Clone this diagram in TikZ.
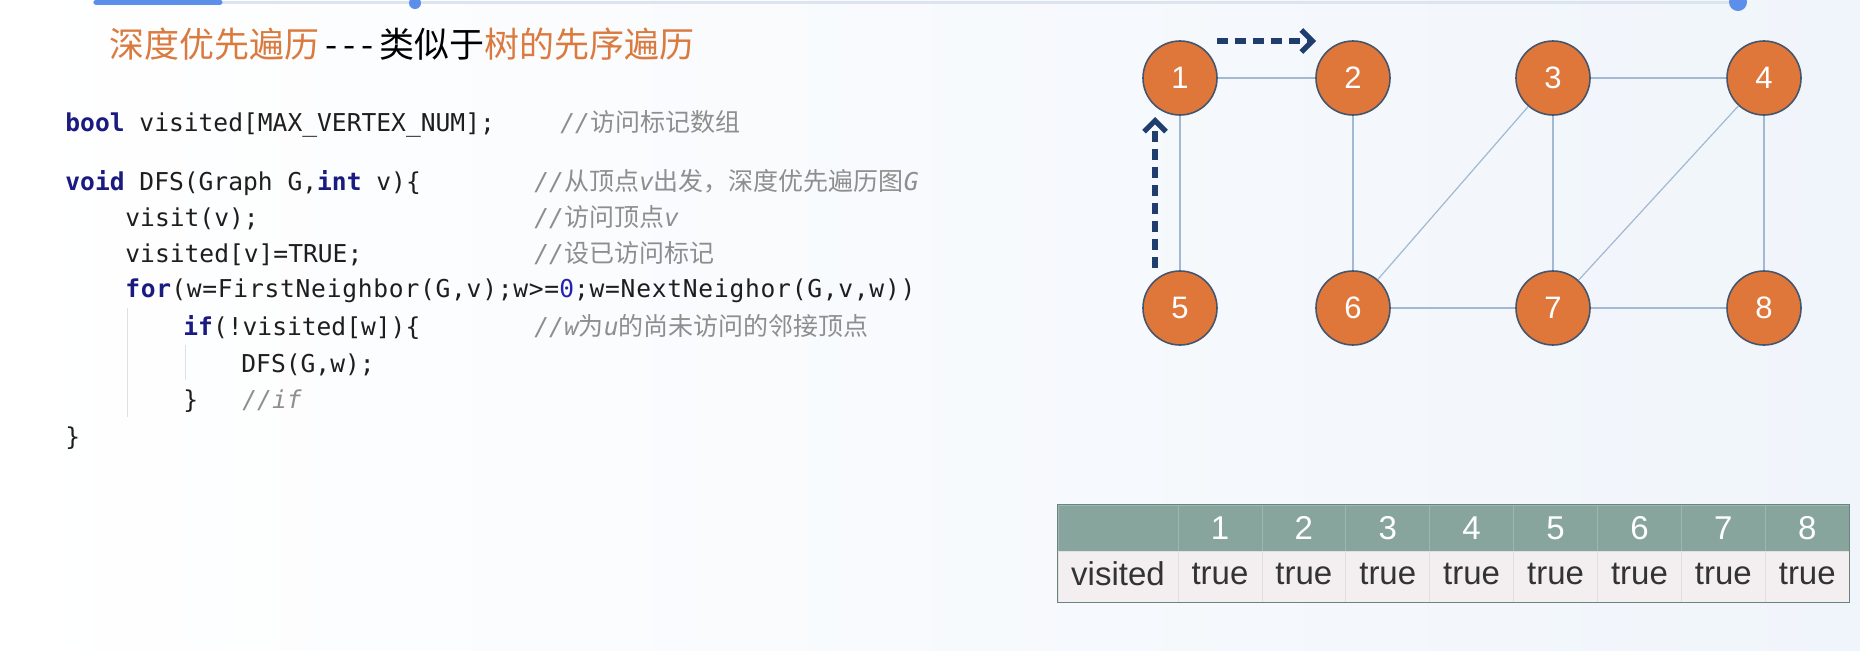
\documentclass[tikz,border=0pt]{standalone}
\usepackage{fontspec}
\setmainfont{Liberation Sans}
\newfontfamily\codefont{DejaVu Sans Mono}
\newfontfamily\cjk{Noto Sans CJK SC}
\usetikzlibrary{arrows.meta}

\definecolor{vorange}{HTML}{E0773A}
\definecolor{vborder}{HTML}{45556B}
\definecolor{edgeblue}{HTML}{A3B8D2}
\definecolor{walknavy}{HTML}{1F3E6E}
\definecolor{titleorange}{HTML}{DB7A3E}
\definecolor{kwblue}{HTML}{1A1A80}
\definecolor{numblue}{HTML}{2424B0}
\definecolor{cmgray}{HTML}{8E8E8E}
\definecolor{codeblack}{HTML}{1E1E1E}
\definecolor{thead}{HTML}{87A59D}
\definecolor{tbody}{HTML}{F3EFF0}
\definecolor{barblue}{HTML}{5B8FEA}
\definecolor{barline}{HTML}{DCE4EE}
\definecolor{bgblue}{HTML}{F0F5FB}

\newcommand{\kw}[1]{{\color{kwblue}\bfseries #1}}
\newcommand{\zh}[1]{{\upshape\cjk\fontsize{12.5}{12.5}\selectfont #1}}
\newcommand{\cm}[1]{{\color{cmgray}\itshape #1}}

\tikzset{
  vertex/.style={circle, fill=vorange, draw=vborder, line width=0.8pt,
    minimum size=37pt, inner sep=0pt, text=white,
    font=\fontsize{15.5}{15.5}\selectfont},
  walk/.style={walknavy, line width=2.6pt, dash pattern=on 5.5pt off 3.5pt,
    -{Straight Barb[length=5.5pt,width=11pt]}},
  code/.style={anchor=base west, inner sep=0pt, text=codeblack,
    font=\codefont\fontsize{12.3}{12.3}\selectfont},
  guide/.style={draw=black!12, line width=0.5pt},
  headcell/.style={fill=thead, draw=thead!80!white, minimum width=41.95pt,
    minimum height=23pt, inner sep=0pt, text=white,
    font=\fontsize{16.5}{16.5}\selectfont},
  bodycell/.style={fill=tbody, draw=black!12, minimum width=41.95pt,
    minimum height=25.5pt, inner sep=0pt, text=black!80, text depth=0.25em,
    font=\fontsize{16.5}{16.5}\selectfont}
}

\begin{document}
\begin{tikzpicture}[x=0.5pt, y=-0.5pt]
  \useasboundingbox (0,0) rectangle (1860,650);
  \fill[left color=white, right color=bgblue] (0,0) rectangle (1860,650);

  \draw[barline, line width=1.5pt] (93,2) -- (1738,2);
  \draw[barblue, line width=2.5pt, line cap=round] (96,2) -- (220,2);
  \fill[barblue] (415,3) circle (3pt);
  \fill[barblue] (1738,2) circle (4.5pt);

  \node[anchor=west, inner sep=0pt, font=\cjk\fontsize{17.5}{17.5}\selectfont] (title) at (109,44)
    {\textcolor{titleorange}{深度优先遍历}\kern3pt-\kern3pt-\kern3pt-\kern3pt类似于\textcolor{titleorange}{树的先序遍历}};

  \node[code] (l1) at (65,131) {\kw{bool} visited[MAX\_VERTEX\_NUM];};
  \node[code] (c1) at (560,131) {\cm{//\zh{访问标记数组}}};
  \node[code] (l2) at (65,190) {\kw{void} DFS(Graph G,\kw{int} v)\{};
  \node[code] (c2) at (534,190) {\cm{//\zh{从顶点}v\zh{出发，深度优先遍历图}G}};
  \node[code] (l3) at (125,226) {visit(v);};
  \node[code] (c3) at (534,226) {\cm{//\zh{访问顶点}v}};
  \node[code] (l4) at (125,262) {visited[v]=TRUE;};
  \node[code] (c4) at (534,262) {\cm{//\zh{设已访问标记}}};
  \node[code] (l5) at (125,297) {\addfontfeature{LetterSpace=3}\kw{for}(w=FirstNeighbor(G,v);w>=\textcolor{numblue}{0};w=NextNeighor(G,v,w))};
  \node[code] (l6) at (183,335) {\kw{if}(!visited[w])\{};
  \node[code] (c6) at (534,335) {\cm{//w\zh{为}u\zh{的尚未访问的邻接顶点}}};
  \node[code] (l7) at (241,372) {DFS(G,w);};
  \node[code] (l8) at (183,408) {\}};
  \node[code] (c8) at (242,408) {\cm{//if}};
  \node[code] (l9) at (65,445) {\}};
  \draw[guide] (127,308) -- (127,417);
  \draw[guide] (185,345) -- (185,380);

  \draw
    (1180,78) node[vertex] (1){1}
    (1353,78) node[vertex] (2){2}
    (1553,78) node[vertex] (3){3}
    (1764,78) node[vertex] (4){4}
    (1180,308) node[vertex] (5){5}
    (1353,308) node[vertex] (6){6}
    (1553,308) node[vertex] (7){7}
    (1764,308) node[vertex] (8){8};
  \begin{scope}[edgeblue, line width=0.6pt]
    \draw (1) to (2);
    \draw (1) to (5);
    \draw (2) to (6);
    \draw (3) to (4);
    \draw (3) to (6);
    \draw (3) to (7);
    \draw (4) to (7);
    \draw (4) to (8);
    \draw (6) to (7);
    \draw (7) to (8);
  \end{scope}

  \coordinate (w1) at (1217,41);
  \coordinate (w2) at (1316,41);
  \coordinate (w3) at (1155,268);
  \coordinate (w4) at (1155,117);
  \draw[walk] (w1) -- (w2);
  \draw[walk] (w3) -- (w4);

  \node[headcell, minimum width=60pt] (h0) at (1118,528) {};
  \node[bodycell, minimum width=60pt] (b0) at (1118,576.5) {visited};
  \foreach \i [evaluate=\i as \x using 1178+(\i-0.5)*83.9] in {1,...,8} {
    \node[headcell] (h\i) at (\x,528) {\i};
    \node[bodycell] (b\i) at (\x,576.5) {true};
  }
  \draw[thead!80!black, line width=0.6pt] (h0.north west) rectangle (b8.south east);
\end{tikzpicture}
\end{document}
